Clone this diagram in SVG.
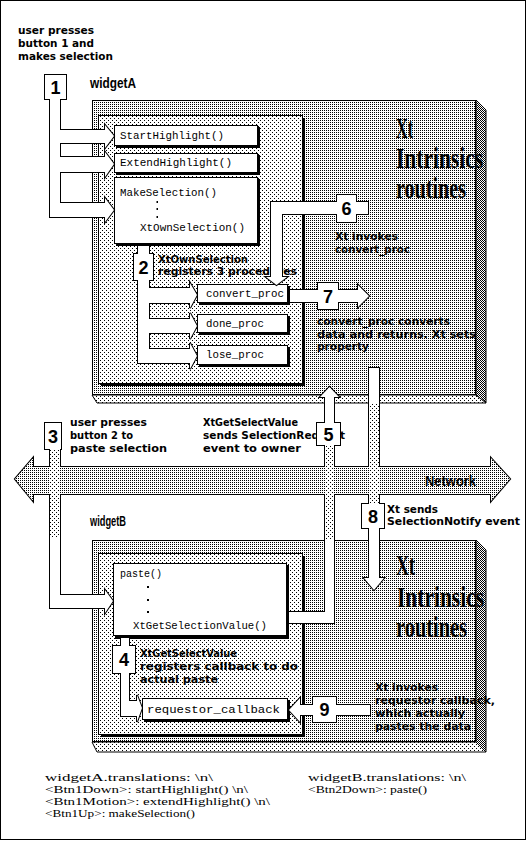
<svg xmlns="http://www.w3.org/2000/svg" width="526" height="841" viewBox="0 0 526 841">
<defs>
<pattern id="pD" width="2" height="2" patternUnits="userSpaceOnUse"><rect width="2" height="2" fill="#fff"/><rect width="1" height="1" fill="#000"/></pattern>
<pattern id="pC" width="2" height="2" patternUnits="userSpaceOnUse"><rect width="2" height="2" fill="#fff"/><rect width="1" height="1" fill="#000"/><rect x="1" y="1" width="1" height="1" fill="#000"/></pattern>
<pattern id="pL" width="4" height="4" patternUnits="userSpaceOnUse"><rect width="4" height="4" fill="#fff"/><rect width="1" height="1" fill="#000"/><rect x="2" y="2" width="1" height="1" fill="#000"/></pattern>
<style>
text{fill:#000}
.b{font-family:"DejaVu Sans","Liberation Sans",sans-serif;font-weight:bold;font-size:10px}
.m{font-family:"Liberation Mono",monospace;font-size:11px}
.n{font-family:"Liberation Sans",Arial,sans-serif;font-weight:bold;font-size:18px;text-anchor:middle}
.big{font-family:"Liberation Serif",serif;font-weight:bold;font-size:29px}
.lab{font-family:"Liberation Sans",sans-serif;font-weight:bold;font-size:15px}
.t{font-family:"Liberation Serif",serif;font-size:11px}
.box{fill:#fff;stroke:#000;stroke-width:1}
.sh{fill:#000}
.os{stroke:#000;stroke-width:2;fill:#000}
.of{fill:#fff;stroke:none}
.dot{fill:#000}
</style>
<polygon id="p1" points="50,95 60,95 60,130 105,130 105,125 114,136 105,148 105,143 60,143 60,157 105,157 105,152 114,164 105,177 105,172 60,172 60,203 105,203 105,198 114,210 105,222 105,217 50,217"/>
<rect id="b1" x="45" y="75" width="21" height="24"/>
<polygon id="p2" points="138,246 149,246 149,288 190,288 190,283 197,295 190,308 190,303 149,303 149,319 190,319 190,313 197,326 190,339 190,333 149,333 149,349 190,349 190,343 197,356 190,369 190,363 138,363"/>
<rect id="b2" x="134" y="254" width="19" height="26"/>
<polygon id="p3" points="50,449 60,449 60,595 105,595 105,590 113,601 105,613 105,608 50,608"/>
<rect id="b3" x="45" y="423" width="16" height="26"/>
<polygon id="p4" points="121,638 129,638 129,701 137,701 137,695 142,708 137,722 137,716 121,716"/>
<rect id="b4" x="113" y="646" width="22" height="27"/>
<polygon id="p5" points="289,612 325,612 325,397 320,397 329.5,387 339,397 334,397 334,623 289,623"/>
<rect id="b5" x="317" y="423" width="23" height="22"/>
<polygon id="p6" points="368,202 368,214 282,214 282,277 287,277 276.5,285 266,277 271,277 271,202"/>
<rect id="b6" x="337" y="195" width="19" height="27"/>
<polygon id="p7" points="290,290 358,290 358,285 369,296 358,307 358,302 290,302"/>
<rect id="b7" x="318" y="283" width="20" height="26"/>
<polygon id="p8" points="369,368 379,368 379,578 384,578 374,590 364,578 369,578"/>
<rect id="b8" x="362" y="504" width="22" height="24"/>
<polygon id="p9" points="370,705 370,715 300,715 300,722 289,710 300,698 300,705"/>
<rect id="b9" x="313" y="697" width="23" height="25"/>
</defs>

<rect x="0.5" y="0.5" width="525" height="839" fill="#fff" stroke="#000"/>

<g id="xtA">
<polygon points="476,100 486,110 486,403 476,395" fill="url(#pC)" stroke="#000"/>
<polygon points="92,395 476,395 486,403 97,403" fill="url(#pL)" stroke="#000"/>
<rect x="92.5" y="100.5" width="383" height="294" fill="url(#pD)" stroke="#000"/>
<text class="big" x="396" y="138" textLength="17" lengthAdjust="spacingAndGlyphs">Xt</text>
<text class="big" x="396" y="168" textLength="87" lengthAdjust="spacingAndGlyphs">Intrinsics</text>
<text class="big" x="396" y="198" textLength="70" lengthAdjust="spacingAndGlyphs">routines</text>
</g>

<g id="xtB">
<polygon points="476,540 486,550 486,752 476,742" fill="url(#pC)" stroke="#000"/>
<polygon points="92,742 476,742 486,752 97,752" fill="url(#pL)" stroke="#000"/>
<rect x="92.5" y="540.5" width="383" height="201" fill="url(#pD)" stroke="#000"/>
<text class="big" x="396" y="575" textLength="19" lengthAdjust="spacingAndGlyphs">Xt</text>
<text class="big" x="397" y="607" textLength="87" lengthAdjust="spacingAndGlyphs">Intrinsics</text>
<text class="big" x="396" y="637" textLength="71" lengthAdjust="spacingAndGlyphs">routines</text>
</g>

<g id="widgetA">
<text class="lab" x="90" y="88" textLength="46" lengthAdjust="spacingAndGlyphs">widgetA</text>
<rect class="sh" x="101" y="118" width="204" height="268"/>
<rect x="98.5" y="115.5" width="204" height="268" fill="url(#pL)" stroke="#000"/>
</g>

<g id="startHighlight">
<rect class="sh" x="116" y="127" width="144" height="21"/>
<rect class="box" x="114.5" y="125.5" width="143" height="20"/>
<text class="m" x="120" y="139" textLength="104" lengthAdjust="spacingAndGlyphs">StartHighlight()</text>
</g>
<g id="extendHighlight">
<rect class="sh" x="116" y="155" width="144" height="20"/>
<rect class="box" x="114.5" y="153.5" width="143" height="19"/>
<text class="m" x="120" y="166" textLength="112" lengthAdjust="spacingAndGlyphs">ExtendHighlight()</text>
</g>
<g id="makeSelection">
<rect class="sh" x="116" y="179" width="144" height="67"/>
<rect class="box" x="114.5" y="177.5" width="143" height="66"/>
<text class="m" x="120" y="196" textLength="97" lengthAdjust="spacingAndGlyphs">MakeSelection()</text>
<rect class="dot" x="156.5" y="201" width="1.5" height="2"/>
<rect class="dot" x="156.5" y="208" width="1.5" height="2"/>
<rect class="dot" x="156.5" y="216" width="1.5" height="2"/>
<text class="m" x="140" y="231" textLength="105" lengthAdjust="spacingAndGlyphs">XtOwnSelection()</text>
</g>
<g id="convertProc">
<rect class="sh" x="199" y="286" width="91" height="19"/>
<rect class="box" x="197.5" y="284.5" width="90" height="18"/>
<text class="m" x="206" y="297" textLength="78" lengthAdjust="spacingAndGlyphs">convert_proc</text>
</g>
<g id="doneProc">
<rect class="sh" x="199" y="316" width="91" height="19"/>
<rect class="box" x="197.5" y="314.5" width="90" height="18"/>
<text class="m" x="206" y="327" textLength="58" lengthAdjust="spacingAndGlyphs">done_proc</text>
</g>
<g id="loseProc">
<rect class="sh" x="199" y="347" width="91" height="20"/>
<rect class="box" x="197.5" y="345.5" width="90" height="19"/>
<text class="m" x="206" y="358" textLength="58" lengthAdjust="spacingAndGlyphs">lose_proc</text>
</g>

<g id="widgetB">
<text class="lab" x="90" y="526" textLength="36" lengthAdjust="spacingAndGlyphs">widgetB</text>
<rect class="sh" x="101" y="556" width="204" height="181"/>
<rect x="98.5" y="553.5" width="204" height="181" fill="url(#pL)" stroke="#000"/>
</g>
<g id="paste">
<rect class="sh" x="115" y="565" width="174" height="74"/>
<rect class="box" x="113.5" y="563.5" width="173" height="72"/>
<text class="m" x="120" y="577" textLength="42" lengthAdjust="spacingAndGlyphs">paste()</text>
<rect class="dot" x="147" y="586" width="2" height="2"/>
<rect class="dot" x="147" y="599" width="2" height="2"/>
<rect class="dot" x="147" y="611" width="2" height="2"/>
<text class="m" x="133" y="629" textLength="134" lengthAdjust="spacingAndGlyphs">XtGetSelectionValue()</text>
</g>
<g id="requestorCallback">
<rect class="sh" x="144" y="700" width="146" height="22"/>
<rect class="box" x="142.5" y="698.5" width="145" height="21"/>
<text class="m" x="147" y="713" textLength="133" lengthAdjust="spacingAndGlyphs">requestor_callback</text>
</g>

<g id="notes">
<text class="b" x="18" y="34" textLength="76" lengthAdjust="spacingAndGlyphs">user presses</text>
<text class="b" x="18" y="47" textLength="76" lengthAdjust="spacingAndGlyphs">button 1 and</text>
<text class="b" x="18" y="60" textLength="95" lengthAdjust="spacingAndGlyphs">makes selection</text>
<text class="b" x="158" y="263" textLength="90" lengthAdjust="spacingAndGlyphs">XtOwnSelection</text>
<text class="b" x="158" y="275" textLength="139" lengthAdjust="spacingAndGlyphs">registers 3 procedures</text>
<text class="b" x="335" y="240" textLength="63" lengthAdjust="spacingAndGlyphs">Xt invokes</text>
<text class="b" x="335" y="253" textLength="75" lengthAdjust="spacingAndGlyphs">convert_proc</text>
<text class="b" x="317" y="325" textLength="133" lengthAdjust="spacingAndGlyphs">convert_proc converts</text>
<text class="b" x="317" y="338" textLength="159" lengthAdjust="spacingAndGlyphs">data and returns. Xt sets</text>
<text class="b" x="317" y="350" textLength="52" lengthAdjust="spacingAndGlyphs">property</text>
<text class="b" x="70" y="426" textLength="77" lengthAdjust="spacingAndGlyphs">user presses</text>
<text class="b" x="70" y="439" textLength="63" lengthAdjust="spacingAndGlyphs">button 2 to</text>
<text class="b" x="70" y="452" textLength="97" lengthAdjust="spacingAndGlyphs">paste selection</text>
<text class="b" x="203" y="426" textLength="95" lengthAdjust="spacingAndGlyphs">XtGetSelectValue</text>
<text class="b" x="203" y="439" textLength="142" lengthAdjust="spacingAndGlyphs">sends SelectionRequest</text>
<text class="b" x="203" y="452" textLength="98" lengthAdjust="spacingAndGlyphs">event  to owner</text>
<text class="b" x="387" y="513" textLength="51" lengthAdjust="spacingAndGlyphs">Xt sends</text>
<text class="b" x="387" y="525" textLength="133" lengthAdjust="spacingAndGlyphs">SelectionNotify event</text>
<text class="b" x="140" y="657" textLength="97" lengthAdjust="spacingAndGlyphs">XtGetSelectValue</text>
<text class="b" x="140" y="670" textLength="158" lengthAdjust="spacingAndGlyphs">registers callback to do</text>
<text class="b" x="140" y="683" textLength="78" lengthAdjust="spacingAndGlyphs">actual paste</text>
<text class="b" x="375" y="691" textLength="63" lengthAdjust="spacingAndGlyphs">Xt invokes</text>
<text class="b" x="375" y="704" textLength="120" lengthAdjust="spacingAndGlyphs">requestor callback,</text>
<text class="b" x="375" y="717" textLength="90" lengthAdjust="spacingAndGlyphs">which actually</text>
<text class="b" x="375" y="730" textLength="96" lengthAdjust="spacingAndGlyphs">pastes the data</text>
</g>

<g id="connectors">
<g class="os"><use href="#p1"/><use href="#b1"/><use href="#p2"/><use href="#b2"/><use href="#p3"/><use href="#b3"/><use href="#p4"/><use href="#b4"/><use href="#p5"/><use href="#b5"/><use href="#p6"/><use href="#b6"/><use href="#p7"/><use href="#b7"/><use href="#p8"/><use href="#b8"/><use href="#p9"/><use href="#b9"/></g>
<g class="of"><use href="#p1"/><use href="#b1"/><use href="#p2"/><use href="#b2"/><use href="#p3"/><use href="#b3"/><use href="#p4"/><use href="#b4"/><use href="#p5"/><use href="#b5"/><use href="#p6"/><use href="#b6"/><use href="#p7"/><use href="#b7"/><use href="#p8"/><use href="#b8"/><use href="#p9"/><use href="#b9"/></g>
</g>

<g id="network">
<polygon points="15,479 33,458 33,467 491,467 491,458 510,479 491,501 491,494 33,494 33,501" fill="none" stroke="#000" stroke-width="2"/>
<polygon points="15,479 33,458 33,467 491,467 491,458 510,479 491,501 491,494 33,494 33,501" fill="url(#pD)"/>
<rect x="50" y="449" width="10" height="88" fill="url(#pL)"/>
<rect x="325" y="445" width="9" height="95" fill="url(#pL)"/>
<rect x="369" y="403" width="10" height="101" fill="url(#pL)"/>
<text class="lab" x="425" y="486" textLength="51" lengthAdjust="spacingAndGlyphs">Network</text>
</g>

<g id="steps">
<text class="n" x="55.5" y="93.5">1</text>
<text class="n" x="143.5" y="273.5">2</text>
<text class="n" x="53" y="442.5">3</text>
<text class="n" x="124" y="666">4</text>
<text class="n" x="328.5" y="440.5">5</text>
<text class="n" x="346.5" y="215">6</text>
<text class="n" x="328" y="302.5">7</text>
<text class="n" x="373" y="522.5">8</text>
<text class="n" x="324.5" y="716">9</text>
</g>

<g id="translations">
<text class="t" x="45" y="781" textLength="168" lengthAdjust="spacingAndGlyphs">widgetA.translations: \n\</text>
<text class="t" x="45" y="793" textLength="203" lengthAdjust="spacingAndGlyphs">&lt;Btn1Down&gt;: startHighlight() \n\</text>
<text class="t" x="45" y="805" textLength="225" lengthAdjust="spacingAndGlyphs">&lt;Btn1Motion&gt;: extendHighlight() \n\</text>
<text class="t" x="45" y="817" textLength="150" lengthAdjust="spacingAndGlyphs">&lt;Btn1Up&gt;: makeSelection()</text>
<text class="t" x="308" y="781" textLength="158" lengthAdjust="spacingAndGlyphs">widgetB.translations: \n\</text>
<text class="t" x="308" y="793" textLength="119" lengthAdjust="spacingAndGlyphs">&lt;Btn2Down&gt;: paste()</text>
</g>
</svg>
